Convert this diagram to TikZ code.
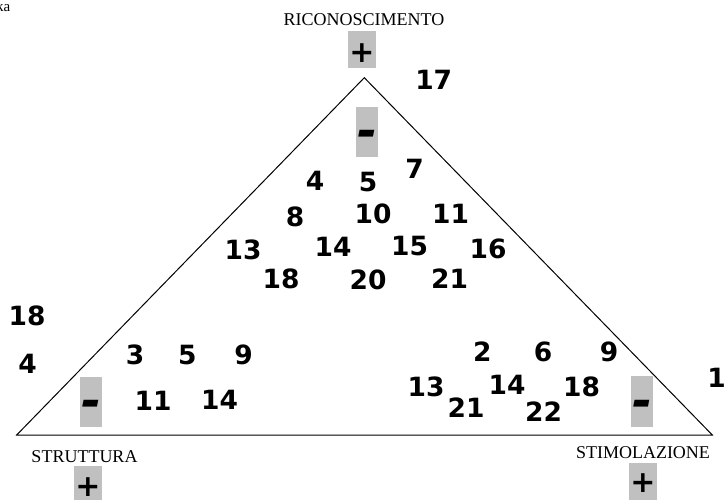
\documentclass[tikz,border=0pt]{standalone}
\usepackage{fontspec}
\setmainfont{Liberation Serif}
\newfontfamily\numfont{DejaVu Sans}
\definecolor{boxgray}{RGB}{192,192,192}
\tikzset{
  num/.style={font=\numfont\bfseries\fontsize{26.5}{26.5}\selectfont, inner sep=0pt},
  lbl/.style={font=\fontsize{18}{18}\selectfont, inner sep=0pt, anchor=base},
  plussign/.style={font=\numfont\bfseries\fontsize{30}{30}\selectfont, inner sep=0pt, anchor=base},
  minussign/.style={font=\numfont\bfseries\itshape\fontsize{48}{48}\selectfont, inner sep=0pt, anchor=base},
}
\begin{document}
\begin{tikzpicture}[x=1pt,y=-1pt]
  \useasboundingbox (0,0) rectangle (724,500);
  \node[lbl, anchor=base east, font=\fontsize{15}{15}\selectfont] (corner) at (10.5,12) {ka};

  \coordinate (apex) at (364.3,77.7);
  \coordinate (left) at (16.7,435);
  \coordinate (right) at (712.3,435);
  \draw[line width=1pt] (left) -- (apex) -- (right) -- cycle;

  \node[lbl] (riconoscimento) at (364,26) {RICONOSCIMENTO};
  \node[lbl] (struttura) at (84.5,462) {STRUTTURA};
  \node[lbl] (stimolazione) at (643,458) {STIMOLAZIONE};

  \fill[boxgray] (348,31) rectangle (376,68);
  \node[plussign] (plusA) at (362,63) {+};
  \fill[boxgray] (356,107) rectangle (378,157);
  \node[minussign] (minusA) at (367,147.5) {-};

  \fill[boxgray] (80,377) rectangle (102,427);
  \node[minussign] (minusB) at (91,417.5) {-};
  \fill[boxgray] (74,466) rectangle (102,510);
  \node[plussign] (plusB) at (88,496.5) {+};

  \fill[boxgray] (631,376) rectangle (653,427);
  \node[minussign] (minusC) at (642,417.5) {-};
  \fill[boxgray] (629,463) rectangle (657,510);
  \node[plussign] (plusC) at (643,492) {+};

  \node[num] (r17) at (433.7,80) {17};
  \node[num] (r7) at (414.5,168.5) {7};
  \node[num] (r4) at (315,181) {4};
  \node[num] (r5) at (368,182.5) {5};
  \node[num] (r8) at (295,217) {8};
  \node[num] (r10) at (373,214) {10};
  \node[num] (r11) at (450.5,214) {11};
  \node[num] (r13) at (243,249.5) {13};
  \node[num] (r14) at (333,247) {14};
  \node[num] (r15) at (409.5,246.5) {15};
  \node[num] (r16) at (488,249) {16};
  \node[num] (r18) at (281,278.5) {18};
  \node[num] (r20) at (368,279.7) {20};
  \node[num] (r21) at (449.5,279) {21};

  \node[num] (s18) at (27,316) {18};
  \node[num] (s4) at (27.5,364) {4};
  \node[num] (s3) at (135,354.7) {3};
  \node[num] (s5) at (187.3,354.7) {5};
  \node[num] (s9) at (243.7,354.7) {9};
  \node[num] (s11) at (153,401) {11};
  \node[num] (s14) at (219.5,400) {14};

  \node[num] (t2) at (482.3,352) {2};
  \node[num] (t6) at (543,352) {6};
  \node[num] (t9) at (609,352) {9};
  \node[num] (t13) at (426,386.7) {13};
  \node[num] (t14) at (507,384.7) {14};
  \node[num] (t18) at (581.5,386.5) {18};
  \node[num] (t21) at (466,407.5) {21};
  \node[num] (t22) at (543.5,411.7) {22};
  \node[num] (t1) at (716.5,378) {1};
\end{tikzpicture}
\end{document}
